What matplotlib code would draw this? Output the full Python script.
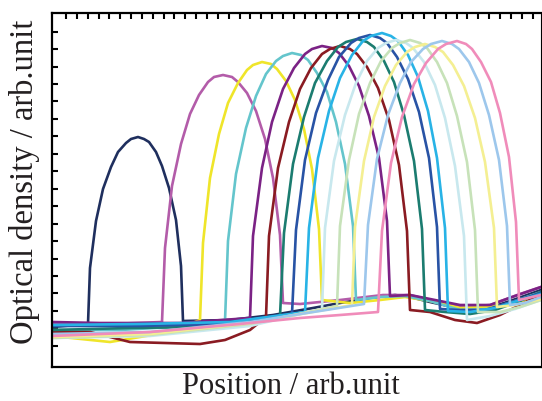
import numpy as np
import matplotlib
matplotlib.use('Agg')
import matplotlib.pyplot as plt

# position / optical density (arb. units)
navy_x = [52, 88, 90, 96, 103, 111, 118, 126, 131, 138, 144, 149, 156, 162, 169, 176, 181, 183, 230, 273, 313, 340, 370, 395, 410, 430, 457, 483, 513, 541]
navy_y = [73, 76, 132, 179, 211, 233, 248, 257, 261, 263, 261, 258, 248, 234, 212, 180, 134, 79, 80, 85, 92, 97, 102, 105, 103, 98, 92, 90, 100, 110]

magenta_x = [52, 110, 162, 165, 172, 181, 190, 199, 208, 214, 223, 232, 238, 247, 256, 265, 273, 280, 283, 300, 340, 383, 410, 430, 465, 490, 520, 541]
magenta_y = [77, 76, 78, 152, 214, 256, 286, 305, 318, 323, 325, 323, 318, 307, 289, 261, 222, 165, 97, 96, 100, 105, 105, 100, 93, 95, 106, 113]

yellow_x = [52, 110, 170, 200, 203, 210, 219, 228, 238, 247, 253, 262, 271, 277, 286, 295, 304, 312, 319, 322, 350, 380, 405, 430, 460, 490, 515, 541]
yellow_y = [64, 58, 68, 80, 157, 222, 266, 297, 317, 330, 335, 338, 336, 331, 319, 300, 271, 231, 171, 100, 97, 100, 103, 99, 92, 93, 96, 104]

aqua_x = [52, 120, 190, 225, 228, 236, 246, 256, 266, 276, 283, 292, 301, 308, 317, 327, 336, 345, 353, 356, 380, 405, 430, 460, 490, 515, 541]
aqua_y = [70, 70, 74, 79, 159, 226, 272, 304, 326, 339, 344, 347, 345, 340, 327, 308, 278, 236, 174, 100, 103, 104, 99, 90, 91, 99, 108]

purple_x = [52, 100, 180, 250, 253, 262, 272, 283, 294, 305, 312, 322, 332, 339, 349, 359, 369, 379, 387, 390, 410, 430, 460, 490, 515, 541]
purple_y = [78, 77, 77, 82, 164, 232, 278, 311, 332, 346, 351, 354, 352, 347, 334, 314, 284, 242, 179, 104, 105, 101, 95, 95, 104, 113]

darkred_x = [52, 90, 130, 200, 225, 250, 266, 269, 278, 289, 300, 311, 322, 330, 340, 350, 357, 367, 378, 389, 399, 407, 410, 430, 455, 477, 500, 520, 541]
darkred_y = [68, 68, 58, 56, 60, 70, 83, 164, 232, 278, 311, 332, 346, 351, 354, 351, 346, 333, 312, 280, 235, 169, 90, 88, 80, 77, 85, 95, 106]

teal_x = [52, 130, 200, 250, 280, 284, 293, 304, 315, 327, 338, 346, 357, 367, 374, 384, 394, 404, 414, 422, 425, 445, 470, 495, 520, 541]
teal_y = [70, 72, 73, 78, 84, 167, 236, 283, 317, 339, 353, 358, 361, 358, 353, 339, 318, 285, 239, 171, 90, 88, 86, 90, 99, 108]

blue_x = [52, 140, 220, 292, 296, 305, 316, 328, 339, 351, 359, 370, 380, 387, 397, 408, 419, 429, 437, 440, 460, 485, 515, 541]
blue_y = [74, 74, 76, 86, 170, 240, 287, 320, 343, 357, 362, 365, 362, 357, 343, 321, 288, 242, 173, 91, 90, 90, 99, 107]

sky_x = [52, 140, 230, 305, 309, 318, 329, 340, 352, 363, 371, 382, 391, 398, 408, 418, 428, 437, 445, 448, 470, 495, 520, 541]
sky_y = [75, 76, 78, 88, 172, 242, 289, 322, 345, 359, 364, 367, 364, 359, 345, 323, 289, 242, 172, 89, 88, 92, 100, 106]

palecyan_x = [52, 150, 250, 322, 325, 334, 345, 356, 367, 378, 386, 396, 406, 413, 424, 435, 445, 455, 464, 467, 490, 515, 541]
palecyan_y = [62, 64, 74, 91, 172, 239, 285, 317, 339, 352, 357, 360, 357, 352, 338, 315, 282, 234, 164, 80, 84, 91, 100]

palegreen_x = [52, 150, 250, 337, 340, 349, 359, 370, 381, 392, 400, 410, 420, 427, 437, 447, 457, 467, 475, 478, 500, 520, 541]
palegreen_y = [62, 65, 76, 94, 174, 240, 286, 317, 339, 352, 357, 360, 357, 352, 338, 317, 284, 238, 170, 88, 88, 93, 100]

paleyellow_x = [52, 150, 250, 352, 355, 364, 374, 385, 396, 407, 415, 425, 435, 443, 453, 464, 475, 485, 494, 497, 515, 541]
paleyellow_y = [63, 66, 77, 95, 173, 239, 283, 314, 335, 348, 353, 356, 353, 348, 335, 314, 282, 238, 172, 93, 95, 101]

lightblue_x = [52, 150, 250, 364, 368, 377, 388, 400, 411, 423, 431, 442, 452, 459, 469, 479, 489, 499, 507, 510, 525, 541]
lightblue_y = [66, 68, 78, 96, 175, 241, 285, 317, 338, 351, 356, 359, 356, 351, 338, 317, 285, 240, 174, 95, 97, 103]

pink_x = [52, 150, 240, 300, 340, 378, 382, 391, 402, 414, 426, 438, 446, 457, 466, 472, 481, 491, 500, 509, 516, 519, 541]
pink_y = [64, 68, 76, 82, 85, 88, 169, 237, 283, 316, 337, 351, 356, 359, 356, 351, 338, 318, 287, 243, 178, 100, 105]

curves = [
    (navy_x, navy_y, '#1f2f5e'),
    (magenta_x, magenta_y, '#b35ca9'),
    (yellow_x, yellow_y, '#efe52a'),
    (aqua_x, aqua_y, '#64c5cc'),
    (purple_x, purple_y, '#7b2285'),
    (darkred_x, darkred_y, '#8a1b22'),
    (teal_x, teal_y, '#1b7c70'),
    (blue_x, blue_y, '#2853a5'),
    (sky_x, sky_y, '#28b3e6'),
    (palecyan_x, palecyan_y, '#c8e8ee'),
    (palegreen_x, palegreen_y, '#c7e2b9'),
    (paleyellow_x, paleyellow_y, '#f4ef92'),
    (lightblue_x, lightblue_y, '#9dc7ec'),
    (pink_x, pink_y, '#f08cba'),
]

fig = plt.figure(figsize=(5.42, 4.01), dpi=100)
ax = fig.add_axes([52/542, 1-367/401, 489/542, 354/401])

for x, y, c in curves:
    ax.plot(x, y, color=c, lw=1.9, solid_joinstyle='round')

ax.set_xlim(52, 541)
ax.set_ylim(33, 387)

ax.set_xticks(np.arange(66, 535, 10.85))
ax.set_yticks(np.arange(54.2, 369, 17.45))
ax.tick_params(axis='x', which='both', direction='in', top=True, bottom=False,
               labeltop=False, labelbottom=False, length=4, width=1.5)
ax.tick_params(axis='y', which='both', direction='in', left=True, right=False,
               labelleft=False, length=4, width=1.5)

for s in ['top', 'left', 'bottom']:
    ax.spines[s].set_linewidth(1.6)
ax.spines['right'].set_linewidth(0.8)

fig.text(33/542, 1-182/401, 'Optical density / arb.unit', family='Liberation Serif',
         fontsize=23.5, rotation=90, rotation_mode='anchor', ha='center', va='baseline',
         color='#231f20')
fig.text(291/542, 1-394/401, 'Position / arb.unit', family='Liberation Serif',
         fontsize=22, ha='center', va='baseline', color='#231f20')

fig.savefig('out.png', dpi=100)
